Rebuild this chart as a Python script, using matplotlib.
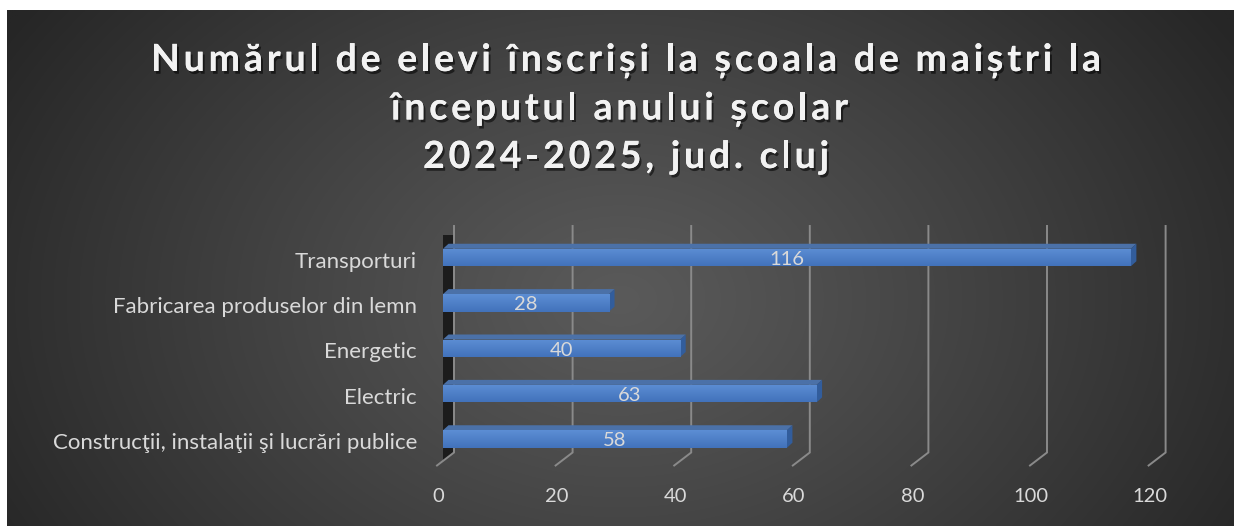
import numpy as np
import matplotlib
matplotlib.use("Agg")
import matplotlib.pyplot as plt
from matplotlib.patches import Polygon
from matplotlib.transforms import Affine2D
from matplotlib.font_manager import FontProperties
import matplotlib.patheffects as pe

# ---------------- data ----------------
categories = ["Construcţii, instalaţii şi lucrări publice", "Electric", "Energetic",
              "Fabricarea produselor din lemn", "Transporturi"]
values = [58, 63, 40, 28, 116]
xticks = [0, 20, 40, 60, 80, 100, 120]
title_lines = ["Numărul de elevi înscriși la școala de maiștri la",
               "începutul anului școlar ",
               "2024-2025, jud. cluj"]

# ---------------- figure ----------------
W, H, DPI = 1234, 526, 100
fig = plt.figure(figsize=(W / DPI, H / DPI), dpi=DPI, facecolor="white")
renderer = fig.canvas.get_renderer()

# background with radial gradient
bg = fig.add_axes([7 / W, 0, 1 - 7 / W, (H - 10) / H], zorder=0)
bg.set_axis_off()
gx = np.linspace(7, W, 600)
gy = np.linspace(10, H, 300)
XX, YY = np.meshgrid(gx, gy)
cx, cy = 620, 300
r = np.sqrt(((XX - cx) / 720) ** 2 + ((YY - cy) / 520) ** 2)
r = np.clip(r, 0, 1)
c_in, c_out = 0x5a / 255, 0x26 / 255
val = c_in + (c_out - c_in) * r ** 1.1
img = np.dstack([val, val, val])
bg.imshow(img, extent=(7, W, H, 10), aspect="auto", interpolation="bilinear")
bg.set_xlim(7, W)
bg.set_ylim(H, 10)

# title with letter spacing (characters placed one by one)
tfp = FontProperties(family=["Lato", "DejaVu Sans"], weight="bold", size=27)
title_fx = [pe.withSimplePatchShadow(offset=(1.5, -2), shadow_rgbFace="black", alpha=0.55),
            pe.Normal()]


def char_widths(s):
    return [renderer.get_text_width_height_descent(ch, tfp, ismath=False)[0] for ch in s]


w0 = char_widths(title_lines[0])
spacing = (950 - sum(w0)) / (len(title_lines[0]) - 1)
baselines = [71, 119.5, 168]
for line, base in zip(title_lines, baselines):
    ws = char_widths(line)
    total = sum(ws) + spacing * (len(line) - 1)
    x = 626 - total / 2
    for ch, w in zip(line, ws):
        if ch != " ":
            bg.text(x, H - base, ch, transform=Affine2D(), ha="left", va="baseline",
                    color="#f2f2f2", fontproperties=tfp, path_effects=title_fx)
        x += w + spacing

# ---------------- main axes (front plane of bars) ----------------
FX0 = 443.0
PX_PER = 5.93
XMAX = 120
YC0, YC4 = 439.0, 257.5
step = (YC0 - YC4) / 4
ybot_px = YC0 + step / 2
ytop_px = YC4 - step / 2
ax = fig.add_axes([FX0 / W, (H - ybot_px) / H, XMAX * PX_PER / W, (ybot_px - ytop_px) / H],
                  zorder=1)
ax.set_facecolor("none")
ax.set_xlim(0, XMAX)
ax.set_ylim(-0.5, len(categories) - 0.5)
for s in ax.spines.values():
    s.set_visible(False)
ax.set_xticks([])
ax.set_yticks([])

BACK_DX = 11
GRID_TOP, GRID_BOT = 226, 452.5
DIAG_DX, DIAG_DY = -17, 13
grid_col = "#8a8a8a"
lab_font = ["Lato", "DejaVu Sans"]

# left side wall
x0_back = ax.transData.transform((0, 0))[0] + BACK_DX
wall = Polygon([(x0_back, H - GRID_TOP), (x0_back, H - GRID_BOT),
                (x0_back - 15, H - GRID_BOT - 12), (x0_back - 15, H - GRID_TOP - 11)],
               closed=True, facecolor="#1c1c1c", edgecolor="none", zorder=1,
               transform=Affine2D())
ax.add_artist(wall)

# gridlines (back wall + floor diagonal) and tick labels
for v in xticks:
    xb = ax.transData.transform((v, 0))[0] + BACK_DX
    ax.plot([xb, xb, xb + DIAG_DX], [H - GRID_TOP, H - GRID_BOT, H - GRID_BOT - DIAG_DY],
            color=grid_col, lw=1.4, transform=Affine2D(), clip_on=False, zorder=2,
            solid_joinstyle="miter")
    ax.text(xb + DIAG_DX + 1, H - 497, str(v), transform=Affine2D(), ha="center", va="center",
            color="#d9d9d9", fontsize=14.5, family=lab_font)

# bars
bar_h = 17.5 / step
DDX, DDY = 5.5, 5
front_col = "#4f82c6"
top_col = "#4b71a8"
side_col = "#325d9c"
ypos = np.arange(len(categories))
bars = ax.barh(ypos, values, height=bar_h, color=front_col, zorder=5, clip_on=False)
top_rgb = np.array([0x5c, 0x8e, 0xd4]) / 255
bot_rgb = np.array([0x42, 0x72, 0xbb]) / 255
grad = np.linspace(0, 1, 50).reshape(-1, 1, 1)
gimg = top_rgb[None, None, :] * (1 - grad) + bot_rgb[None, None, :] * grad
for b, v, y in zip(bars, values, ypos):
    im = ax.imshow(gimg, extent=(0, v, y - bar_h / 2, y + bar_h / 2), aspect="auto",
                   origin="upper", zorder=5.5, interpolation="bilinear")
    im.set_clip_path(b)
    p_tl = ax.transData.transform((0, y + bar_h / 2))
    p_tr = ax.transData.transform((v, y + bar_h / 2))
    p_br = ax.transData.transform((v, y - bar_h / 2))
    top = Polygon([p_tl, p_tr, p_tr + [DDX, DDY], p_tl + [DDX, DDY]], closed=True,
                  facecolor=top_col, edgecolor="none", transform=Affine2D(), zorder=4)
    ax.add_artist(top)
    side = Polygon([p_br, p_tr, p_tr + [DDX, DDY], p_br + [DDX, DDY]], closed=True,
                   facecolor=side_col, edgecolor="none", transform=Affine2D(), zorder=4)
    ax.add_artist(side)
    ax.text(v / 2, y - 0.04, str(v), ha="center", va="center", color="#d9d9d9",
            fontsize=14.5, family=lab_font, zorder=7)

ax.set_xlim(0, XMAX)
ax.set_ylim(-0.5, len(categories) - 0.5)

# category labels
for c, y in zip(categories, ypos):
    yp = ax.transData.transform((0, y))[1]
    ax.text(417, yp - 4, c, transform=Affine2D(), ha="right", va="center", color="#d9d9d9",
            fontsize=16, family=lab_font)

fig.savefig("out.png", dpi=DPI, facecolor="white")
